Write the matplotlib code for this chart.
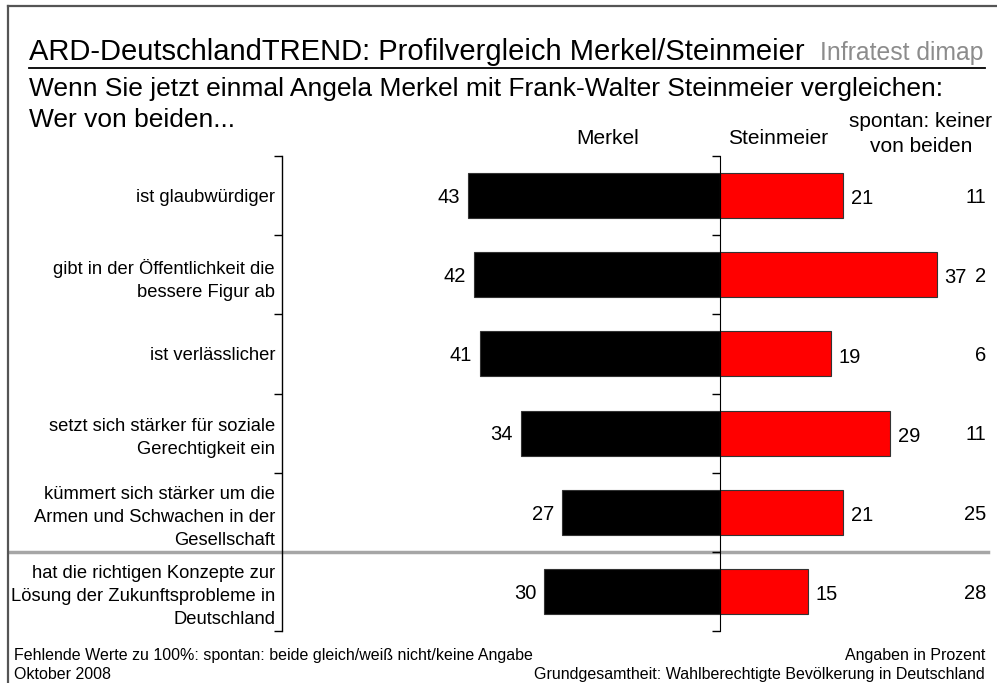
import matplotlib
matplotlib.use("Agg")
import matplotlib.pyplot as plt
from matplotlib.lines import Line2D
from matplotlib.transforms import blended_transform_factory
import numpy as np

plt.rcParams['font.family'] = ['Liberation Sans', 'DejaVu Sans']

# data
categories = [
    "ist glaubwürdiger",
    "gibt in der Öffentlichkeit die\nbessere Figur ab",
    "ist verlässlicher",
    "setzt sich stärker für soziale\nGerechtigkeit ein",
    "kümmert sich stärker um die\nArmen und Schwachen in der\nGesellschaft",
    "hat die richtigen Konzepte zur\nLösung der Zukunftsprobleme in\nDeutschland",
]
merkel = [43, 42, 41, 34, 27, 30]
steinmeier = [21, 37, 19, 29, 21, 15]
keiner = [11, 2, 6, 11, 25, 28]

W, H = 997, 683
fig = plt.figure(figsize=(W / 100, H / 100), dpi=100)

def fx(px):
    return px / W

def fy(py):
    return 1 - py / H

# axes geometry in pixels
x0_px, x1_px, zero_px = 282, 990, 720
top_px, bot_px = 156, 631
scale = 5.86  # px per percent
ax = fig.add_axes([fx(x0_px), fy(bot_px), fx(x1_px - x0_px), (bot_px - top_px) / H])
ax.set_xlim((x0_px - zero_px) / scale, (x1_px - zero_px) / scale)
n = len(categories)
ax.set_ylim(n - 0.5, -0.5)

y = np.arange(n)
ax.barh(y, [-v for v in merkel], height=0.57, color='black', edgecolor='#333333', linewidth=0.8)
ax.barh(y, steinmeier, height=0.57, color='#ff0000', edgecolor='#333333', linewidth=0.8)

num_fs = 14.5
dy = -0.36 * num_fs
for i in range(n):
    ax.annotate(str(merkel[i]), (-merkel[i], i), xytext=(-5.5, dy), textcoords='offset points',
                ha='right', va='baseline', fontsize=num_fs)
    ax.annotate(str(steinmeier[i]), (steinmeier[i], i), xytext=(5.5, dy - 1), textcoords='offset points',
                ha='left', va='baseline', fontsize=num_fs)

tr = blended_transform_factory(fig.transFigure, ax.transData)
for i in range(n):
    ax.annotate(str(keiner[i]), (fx(986), i), xycoords=tr, xytext=(0, dy), textcoords='offset points',
                ha='right', va='baseline', fontsize=num_fs)

# separator before the last item
ax.plot([fx(10), fx(988)], [n - 1.5, n - 1.5], transform=tr, color='#a6a6a6', lw=2.5, clip_on=False)

# left axis with category labels
for s in ['top', 'right', 'bottom']:
    ax.spines[s].set_visible(False)
ax.spines['left'].set_linewidth(1.0)
ax.set_xticks([])
ax.set_yticks(y)
ax.set_yticklabels(categories, fontsize=13.2, linespacing=1.45)
ax.tick_params(axis='y', which='major', length=0, pad=5)
ax.set_yticks(np.arange(n + 1) - 0.5, minor=True)
ax.tick_params(axis='y', which='minor', length=6, width=1.0, direction='out')

# zero line with its own ticks
ax2 = fig.add_axes([fx(zero_px), fy(bot_px), 0.001, (bot_px - top_px) / H])
ax2.set_ylim(n - 0.5, -0.5)
for s in ['top', 'right', 'bottom']:
    ax2.spines[s].set_visible(False)
ax2.set_xticks([])
ax2.set_yticks(np.arange(n + 1) - 0.5)
ax2.set_yticklabels([])
ax2.tick_params(axis='y', length=6, width=1.0, direction='out')
ax2.patch.set_visible(False)

# titles
fig.text(fx(29), fy(60), "ARD-DeutschlandTREND: Profilvergleich Merkel/Steinmeier",
         fontsize=21, va='baseline', ha='left')
fig.text(fx(983), fy(60), "Infratest dimap", fontsize=17.8, va='baseline', ha='right',
         color='#8c8c8c')
fig.add_artist(Line2D([fx(29), fx(985)], [fy(68), fy(68)], color='black', lw=1.3))
fig.text(fx(29), fy(96), "Wenn Sie jetzt einmal Angela Merkel mit Frank-Walter Steinmeier vergleichen:",
         fontsize=19, va='baseline', ha='left')
fig.text(fx(29), fy(127), "Wer von beiden...", fontsize=19, va='baseline', ha='left')

fig.text(fx(608), fy(144), "Merkel", fontsize=15, va='baseline', ha='center')
fig.text(fx(778), fy(144), "Steinmeier", fontsize=15, va='baseline', ha='center')
fig.text(fx(920), fy(127), "spontan: keiner", fontsize=15, va='baseline', ha='center')
fig.text(fx(921), fy(152), "von beiden", fontsize=15, va='baseline', ha='center')

# footnotes
fig.text(fx(14), fy(660), "Fehlende Werte zu 100%: spontan: beide gleich/weiß nicht/keine Angabe",
         fontsize=11.5, va='baseline', ha='left')
fig.text(fx(14), fy(679), "Oktober 2008", fontsize=11.5, va='baseline', ha='left')
fig.text(fx(985), fy(660), "Angaben in Prozent", fontsize=11.5, va='baseline', ha='right')
fig.text(fx(985), fy(679), "Grundgesamtheit: Wahlberechtigte Bevölkerung in Deutschland",
         fontsize=11.5, va='baseline', ha='right')

# frame lines at top and left
fig.add_artist(Line2D([fx(8), 1], [fy(6), fy(6)], color='#555555', lw=1.6))
fig.add_artist(Line2D([fx(8), fx(8)], [fy(6), 0], color='#555555', lw=1.6))

fig.savefig("out.png", dpi=100)
